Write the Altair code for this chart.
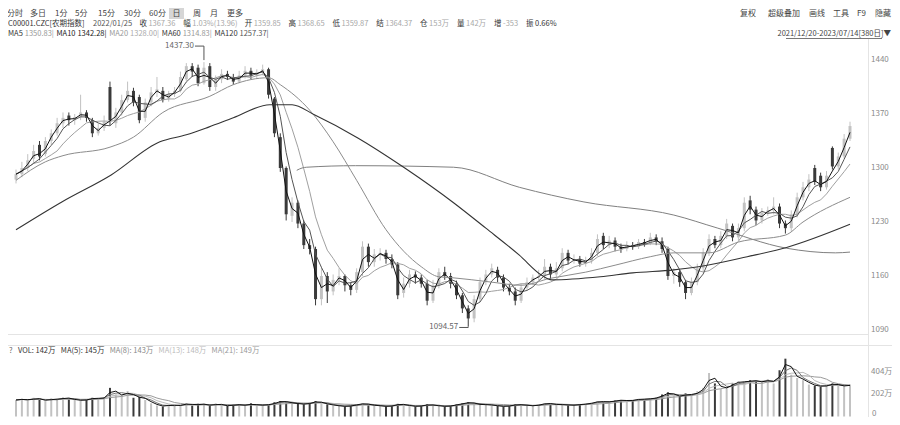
import altair as alt
import pandas as pd

FONT = "Noto Sans CJK SC"

# ---------------- data ----------------
opens = [1285,1292,1300,1312,1330,1318,1335,1345,1358,1368,1362,1366,1372,1362,1345,1352,1405,1358,1372,1388,
         1400,1392,1365,1385,1398,1400,1390,1396,1400,1415,1432,1430,1410,1432,1405,1415,1422,1418,1412,1420,
         1426,1420,1424,1428,1390,1340,1300,1238,1255,1228,1200,1195,1130,1160,1140,1155,1160,1148,1142,1165,
         1198,1178,1188,1190,1182,1175,1138,1150,1162,1158,1150,1128,1148,1165,1160,1150,1135,1118,1105,1130,
         1152,1162,1168,1158,1145,1140,1128,1145,1152,1158,1160,1172,1162,1170,1190,1180,1182,1176,1180,1190,
         1212,1200,1206,1198,1195,1200,1198,1204,1202,1210,1205,1195,1160,1165,1152,1138,1152,1170,1190,1208,
         1200,1212,1225,1210,1222,1258,1246,1232,1242,1245,1250,1228,1222,1240,1262,1275,1300,1290,1275,1326,
         1302,1315,1338]
highs = [1298,1308,1318,1330,1335,1340,1350,1365,1372,1372,1370,1395,1375,1365,1358,1368,1412,1378,1395,1412,
         1404,1395,1390,1405,1418,1405,1400,1405,1425,1436,1436,1434,1437.3,1436,1420,1428,1426,1422,1426,1432,
         1430,1428,1434,1430,1392,1345,1302,1262,1258,1232,1208,1198,1172,1165,1162,1170,1162,1152,1170,1205,
         1202,1195,1196,1194,1188,1178,1158,1168,1166,1162,1155,1155,1170,1172,1164,1154,1138,1122,1135,1158,
         1168,1176,1172,1162,1150,1145,1150,1158,1162,1168,1182,1176,1178,1196,1194,1188,1186,1185,1196,1214,
         1216,1212,1210,1202,1205,1204,1208,1208,1216,1214,1210,1198,1170,1168,1155,1158,1176,1196,1214,1212,
         1218,1234,1228,1228,1262,1264,1250,1248,1250,1262,1254,1232,1245,1268,1282,1292,1304,1294,1296,1328,
         1320,1344,1360]
lows = [1280,1288,1296,1305,1310,1315,1330,1342,1352,1355,1356,1362,1360,1340,1342,1348,1355,1352,1368,1385,
        1380,1358,1360,1380,1392,1385,1386,1392,1398,1412,1418,1406,1408,1400,1400,1410,1414,1408,1410,1416,
        1415,1416,1420,1390,1340,1295,1232,1230,1222,1195,1188,1122,1122,1125,1135,1148,1140,1135,1138,1160,
        1172,1172,1180,1176,1170,1130,1132,1145,1150,1145,1122,1125,1144,1155,1144,1130,1112,1094.57,1100,1126,
        1148,1158,1152,1140,1135,1122,1125,1142,1148,1154,1156,1156,1158,1166,1175,1176,1172,1172,1176,1186,
        1195,1196,1192,1190,1192,1194,1195,1198,1200,1200,1190,1155,1150,1146,1130,1135,1148,1166,1186,1196,
        1196,1208,1205,1206,1218,1240,1226,1228,1238,1240,1222,1215,1218,1236,1258,1270,1278,1270,1272,1298,
        1298,1312,1335]
closes = [1292,1300,1310,1322,1315,1335,1345,1358,1365,1362,1366,1372,1365,1345,1352,1360,1362,1372,1388,1400,
          1385,1362,1385,1398,1402,1388,1396,1400,1418,1432,1425,1410,1430,1405,1415,1422,1418,1412,1420,1426,
          1420,1424,1428,1395,1345,1300,1240,1255,1228,1200,1195,1130,1160,1140,1155,1160,1148,1142,1165,1198,
          1178,1188,1190,1182,1175,1135,1150,1162,1158,1150,1128,1148,1165,1160,1150,1135,1118,1105,1130,1152,
          1162,1170,1158,1145,1140,1128,1145,1152,1158,1160,1172,1162,1170,1190,1180,1182,1176,1180,1190,1208,
          1200,1206,1198,1195,1200,1198,1204,1202,1210,1205,1195,1160,1165,1152,1138,1152,1170,1190,1208,1200,
          1212,1228,1210,1222,1255,1246,1232,1242,1245,1250,1228,1222,1240,1262,1275,1285,1282,1275,1290,1302,
          1315,1338,1354.37]
volumes = [150,160,145,170,155,140,165,150,175,160,150,145,155,170,160,
           175,260,200,190,230,
           170,180,150,120,100,
           90,110,95,105,120,100,115,110,95,120,
           100,95,110,105,100,120,95,110,105,130,
           140,130,120,115,110,125,140,120,110,100,
           95,90,100,110,120,105,100,95,90,100,
           115,105,95,90,100,110,100,95,90,100,
           110,120,130,115,105,110,100,95,90,100,
           110,105,100,95,110,120,115,105,110,100,
           105,110,115,125,140,130,135,145,150,140,
           150,160,155,165,170,200,220,190,180,210,
           190,230,260,395,300,250,270,300,320,310,
           330,320,310,340,300,420,525,380,350,330,
           290,280,270,285,300,280,275,290]

# long moving averages (candle position, value)
ma60_pos = [0,5,8,16,20,25,33,37,43,45,50,54,58,63,69,72,74,81,86,91,97,102,108,112,118,123,131,134,142]
ma60_val = [1284,1308,1316,1327,1340,1372,1393,1408,1417,1408,1375,1334,1284,1220,1172,1159,1158,1152,1148,
            1157,1165,1174,1185,1190,1190,1204,1213,1230,1262]
ma120_pos = [0,7.8,16.2,24.5,29,32.8,37,43.2,47,50.8,58.2,66.2,74.5,80,85.7,89.5,91.2,99.5,105,112,116.2,124.5,131.2,142]
ma120_val = [1220,1256,1291,1334,1343,1353,1365,1382,1382,1369,1339,1300,1255,1222,1187,1161,1155,1159,1164,
             1168,1172,1185,1197,1227]
ma250_pos = [47.8,48.7,49.5,57.8,74.5,85.7,96.7,112,119.5,131.2,139.5,142]
ma250_val = [1297,1300,1301,1303,1301,1275,1256,1239,1222,1196,1190,1191]

price_ticks = [1090, 1160, 1230, 1300, 1370, 1440]
vol_ticks = [202, 404]
vol_tick_labels = ["202万", "404万"]
vol_zero = [0]

N = len(closes)
df = pd.DataFrame({"i": list(range(N)), "open": opens, "high": highs, "low": lows,
                   "close": closes, "vol": volumes})

# ---------------- scales (plot coords = page coords - 8) ----------------
X = alt.Scale(domain=[0, N - 1], range=[3, 847])
YP = alt.Scale(domain=[1090, 1440], range=[322, 52])
YV = alt.Scale(domain=[0, 404], range=[408.5, 364])

UP, DOWN = "#c2c2c2", "#3a3a3a"
col = alt.condition("datum.close >= datum.open", alt.value(UP), alt.value(DOWN))
xi = alt.X("i:Q", scale=X, axis=None)

base = alt.Chart(df)
layers = []


def hline(y, x0, x1, color="#e4e4e4"):
    return alt.Chart(pd.DataFrame({"a": [0]})).mark_rule(color=color, strokeWidth=1).encode(
        x=alt.value(x0 - 8), x2=alt.value(x1 - 8), y=alt.value(y - 8))


def vline(x, y0, y1, color="#e4e4e4"):
    return alt.Chart(pd.DataFrame({"a": [0]})).mark_rule(color=color, strokeWidth=1).encode(
        x=alt.value(x - 8), y=alt.value(y0 - 8), y2=alt.value(y1 - 8))


layers += [hline(334.5, 8, 868), hline(345.5, 8, 900), vline(868.5, 39, 417)]

# candles
layers.append(base.mark_rule(strokeWidth=1).encode(
    x=xi, y=alt.Y("low:Q", scale=YP, axis=None), y2="high:Q", color=col))
layers.append(base.mark_bar(size=3).encode(
    x=xi, y=alt.Y("open:Q", scale=YP, axis=None), y2="close:Q", color=col))


# short moving averages computed from the closes
def ma_line(frame, color, width):
    return base.transform_window(m="mean(close)", frame=frame, sort=[alt.SortField("i")]).mark_line(
        color=color, strokeWidth=width).encode(x=xi, y=alt.Y("m:Q", scale=YP, axis=None))


layers.append(ma_line([-7, 0], "#a0a0a0", 1))
layers.append(ma_line([-3, 0], "#555555", 1))
layers.append(ma_line([-1, 0], "#111111", 1))


def typed_line(pos, val, color, width):
    d = pd.DataFrame({"p": pos, "v": val})
    return alt.Chart(d).mark_line(color=color, strokeWidth=width, interpolate="monotone").encode(
        x=alt.X("p:Q", scale=X, axis=None), y=alt.Y("v:Q", scale=YP, axis=None))


layers.append(typed_line(ma250_pos, ma250_val, "#808080", 1))
layers.append(typed_line(ma60_pos, ma60_val, "#8c8c8c", 1))
layers.append(typed_line(ma120_pos, ma120_val, "#333333", 1.1))

# extreme annotations
hi_i = highs.index(max(highs))
lo_i = lows.index(min(lows))
ann_hi = pd.DataFrame({"i": [hi_i], "p": [highs[hi_i]], "t": [f"{highs[hi_i]:.2f}"]})
ann_lo = pd.DataFrame({"i": [lo_i], "p": [lows[lo_i]], "t": [f"{lows[lo_i]:.2f}"]})
for d, dy in ((ann_hi, -16), (ann_lo, 1)):
    c = alt.Chart(d)
    layers.append(c.mark_text(align="right", baseline="middle", dx=-10, dy=dy, fontSize=8,
                              font=FONT, color="#666").encode(
        x=alt.X("i:Q", scale=X, axis=None), y=alt.Y("p:Q", scale=YP, axis=None), text="t:N"))
    layers.append(c.mark_rule(color="#555", xOffset=-9, x2Offset=0, yOffset=dy, y2Offset=dy).encode(
        x=alt.X("i:Q", scale=X, axis=None), x2="i:Q", y=alt.Y("p:Q", scale=YP, axis=None), y2="p:Q"))
    layers.append(c.mark_rule(color="#555", yOffset=dy, y2Offset=(-2 if dy < 0 else 0)).encode(
        x=alt.X("i:Q", scale=X, axis=None), y=alt.Y("p:Q", scale=YP, axis=None), y2="p:Q"))

# volume bars and their averages
layers.append(base.mark_bar(size=2).encode(
    x=xi, y=alt.Y("vol:Q", scale=YV, axis=None), y2=alt.datum(0), color=col))


def vma(frame, color, width):
    return base.transform_window(m="mean(vol)", frame=frame, sort=[alt.SortField("i")]).mark_line(
        color=color, strokeWidth=width).encode(x=xi, y=alt.Y("m:Q", scale=YV, axis=None))


layers.append(vma([-7, 0], "#9a9a9a", 1))
layers.append(vma([-4, 0], "#bbbbbb", 1))
layers.append(vma([-2, 0], "#777777", 1))
layers.append(vma([-1, 0], "#111111", 1))

# axis labels
layers.append(alt.Chart(pd.DataFrame({"v": price_ticks})).mark_text(
    align="left", baseline="middle", fontSize=8, font=FONT, color="#8a8a8a").encode(
    x=alt.value(863), y=alt.Y("v:Q", scale=YP, axis=None), text=alt.Text("v:Q", format="d")))
layers.append(alt.Chart(pd.DataFrame({"v": vol_ticks, "t": vol_tick_labels})).mark_text(
    align="left", baseline="middle", fontSize=8, font=FONT, color="#8a8a8a").encode(
    x=alt.value(863), y=alt.Y("v:Q", scale=YV, axis=None), text="t:N"))
layers.append(alt.Chart(pd.DataFrame({"v": vol_zero})).mark_text(
    align="left", baseline="middle", fontSize=8, font=FONT, color="#8a8a8a", dy=-3).encode(
    x=alt.value(864), y=alt.Y("v:Q", scale=YV, axis=None), text=alt.Text("v:Q", format="d")))


# header texts
def label(txt, x, y, color="#333", size=7.5, weight="normal", align="left"):
    return alt.Chart(pd.DataFrame({"t": [txt]})).mark_text(
        align=align, baseline="middle", fontSize=size, font=FONT, color=color, fontWeight=weight).encode(
        x=alt.value(x - 8), y=alt.value(y - 8), text="t:N")


def tw(s, f):
    w = 0.0
    for ch in s:
        if ord(ch) > 0x2E80 or ch == "▼":
            w += 1.0
        elif ch.isdigit():
            w += 0.555
        elif ch in ".,:;|":
            w += 0.25
        elif ch in "()[]/-":
            w += 0.34
        elif ch == " ":
            w += 0.22
        elif ch == "%":
            w += 0.86
        elif ch == "M":
            w += 0.84
        elif ch.isupper():
            w += 0.64
        else:
            w += 0.52
    return w * f


def run(groups, x0, y, f, gap, inner=2):
    x = x0
    for group in groups:
        for t, c in group:
            layers.append(label(t, x, y, c, f))
            x += tw(t, f) + inner
        x += gap - inner


layers.append(alt.Chart(pd.DataFrame({"a": [0]})).mark_rect(color="#d6d6d6").encode(
    x=alt.value(169 - 8), x2=alt.value(184 - 8), y=alt.value(0), y2=alt.value(11)))

L1 = 14
tabs = [("分时", 7), ("多日", 30), ("1分", 55), ("5分", 75), ("15分", 98), ("30分", 124), ("60分", 149),
        ("日", 172.5), ("周", 193), ("月", 210), ("更多", 227)]
for t, x in tabs:
    layers.append(label(t, x, L1, "#444", 8))
for t, x in [("复权", 740), ("超级叠加", 768), ("画线", 809), ("工具", 833), ("F9", 857)]:
    layers.append(label(t, x, L1, "#444", 8))
layers.append(label("隐藏", 891, L1, "#444", 8, align="right"))

D, G = "#333", "#a8a8a8"
run([[("C00001.CZC[农期指数]", D)], [("2022/01/25", "#555")],
     [("收", D), ("1367.36", G)], [("幅", D), ("1.03%(13.96)", G)], [("开", D), ("1359.85", G)],
     [("高", D), ("1368.65", G)], [("低", D), ("1359.87", G)], [("结", D), ("1364.37", G)],
     [("仓", D), ("153万", G)], [("量", D), ("142万", G)], [("增", D), ("-353", G)],
     [("振", D), ("0.66%", D)]], 8, 23.5, 7.5, 8, 1.5)

run([[("MA5", D), ("1350.83|", "#999")], [("MA10", "#222"), ("1342.28|", "#222")],
     [("MA20", "#999"), ("1328.00|", "#aaa")], [("MA60", D), ("1314.83|", "#999")],
     [("MA120", D), ("1257.37|", "#555")]], 8, 33.5, 7.5, 3, 1.5)

layers.append(label("2021/12/20-2023/07/14[380日]▼", 891, 33.5, "#444", 7.5, align="right"))
layers.append(hline(38.5, 786, 882, "#777"))

run([[("?", "#666")], [("VOL: 142万", D)], [("MA(5): 145万", D)], [("MA(8): 143万", "#888")],
     [("MA(13): 148万", "#bbb")], [("MA(21): 149万", "#999")]], 9, 351, 7.5, 5)

chart = alt.layer(*layers).properties(
    width=884, height=409, padding=0, autosize=alt.AutoSizeParams(type="none")
).resolve_scale(y="independent").configure_view(stroke=None)

chart.save("out.html", embed_options={"renderer": "svg", "actions": False})
